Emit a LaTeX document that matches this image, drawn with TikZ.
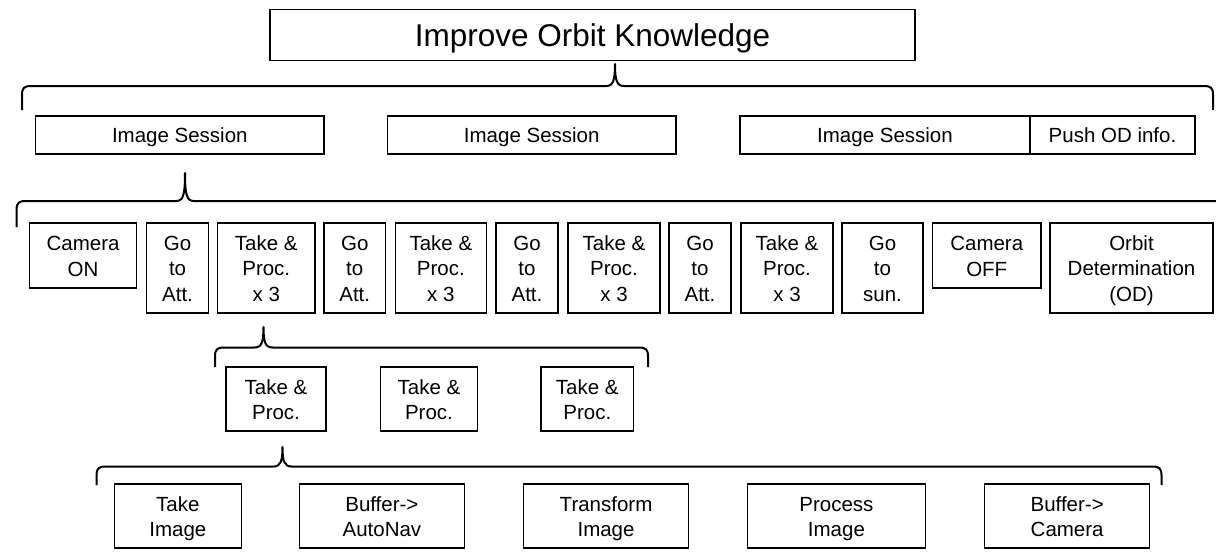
\documentclass[tikz,border=0pt]{standalone}
\usepackage{fontspec}
\setmainfont{Liberation Sans}
\tikzset{
  box/.style={draw=black, line width=1.3pt, inner sep=0pt, align=center,
    font=\fontsize{20.5}{25.5}\selectfont},
  bracestyle/.style={draw=black, line width=2pt, line join=round},
}
% box from corner (x1,y1) to corner (x2,y2), y measured downwards
\newcommand\bx[6]{%
  \node[box, minimum width={(#4-#2)*1pt}, minimum height={(#5-#3)*1pt}]
    (#1) at ({(#2+#4)/2},{(#3+#5)/2})
    {\rule{0pt}{20.7pt}#6\rule[-4.8pt]{0pt}{4.8pt}};}
% upward curly bracket: tip x, tip y, bar y, left x, right x, foot y
\newcommand\curlybrace[6]{%
  \draw[bracestyle] (#4,#6) -- (#4,#3+9)
    .. controls (#4,#3+2) and (#4+2,#3) .. (#4+9,#3)
    -- (#1-9,#3) .. controls (#1-2,#3) and (#1,#3-5) .. (#1,#2)
    .. controls (#1,#3-5) and (#1+2,#3) .. (#1+9,#3)
    -- (#5-9,#3) .. controls (#5-2,#3) and (#5,#3+2) .. (#5,#3+9)
    -- (#5,#6);}
\begin{document}
\begin{tikzpicture}[x=1pt,y=-1pt]
\useasboundingbox[fill=white] (0,0) rectangle (1216,554);
\clip (0,0) rectangle (1216,554);

% goal
\node[box, minimum width=645pt, minimum height=51pt, text height=24pt, text depth=2pt,
  font=\fontsize{31.5}{36}\selectfont] (goal) at (592.5,35) {Improve Orbit Knowledge};

% sessions
\bx{s1}{35.6}{116}{324}{154}{Image Session}
\bx{s2}{387.5}{116}{676}{154}{Image Session}
\bx{s3}{740}{116}{1030}{154}{Image Session}
\bx{push}{1030}{116}{1195}{154}{Push OD info.}

% steps of one session
\bx{camon}{29.7}{223}{136.4}{288}{Camera\\ON}
\bx{att1}{146.7}{223}{208.4}{313}{Go\\to\\Att.}
\bx{tp1}{217.5}{223}{315}{313}{Take \&\\Proc.\\x 3}
\bx{att2}{324}{223}{385.5}{313}{Go\\to\\Att.}
\bx{tp2}{395.4}{223}{486.4}{313}{Take \&\\Proc.\\x 3}
\bx{att3}{496}{223}{558}{313}{Go\\to\\Att.}
\bx{tp3}{568}{223}{660}{313}{Take \&\\Proc.\\x 3}
\bx{att4}{669}{223}{731}{313}{Go\\to\\Att.}
\bx{tp4}{741}{223}{833}{313}{Take \&\\Proc.\\x 3}
\bx{sun}{842}{223}{923}{313}{Go\\to\\sun.}
\bx{camoff}{932.5}{223}{1041}{288}{Camera\\OFF}
\bx{od}{1050}{223}{1213}{313}{Orbit\\Determination\\(OD)}

% repetitions
\bx{tpa}{226}{367}{326}{431}{Take \&\\Proc.}
\bx{tpb}{380.5}{367}{477.4}{431}{Take \&\\Proc.}
\bx{tpc}{541}{367}{633.6}{431}{Take \&\\Proc.}

% single take & process
\bx{take}{114.4}{484}{241.3}{548}{Take\\Image}
\bx{bufa}{299.5}{484}{464.3}{548}{Buffer->\\AutoNav}
\bx{trans}{523.6}{484}{688.5}{548}{Transform\\Image}
\bx{proc}{747.5}{484}{925.4}{548}{Process\\Image}
\bx{bufc}{984.7}{484}{1149.6}{548}{Buffer->\\Camera}

% brackets
\curlybrace{615}{64}{86}{22}{1213}{110}
\curlybrace{185}{173}{201}{16.6}{1250}{227}
\curlybrace{263.5}{327}{347.5}{215}{648}{367}
\curlybrace{282.5}{447}{466.5}{96.6}{1161.5}{485}
\end{tikzpicture}
\end{document}
